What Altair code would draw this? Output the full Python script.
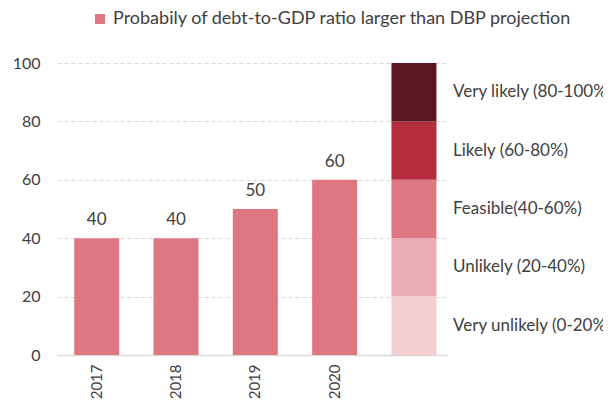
import altair as alt
import pandas as pd

years = ["2017", "2018", "2019", "2020"]
values = [40, 40, 50, 60]
series_name = "Probabily of debt-to-GDP ratio larger than DBP projection"

scale_cat = "scale"
levels = ["Very unlikely (0-20%)", "Unlikely (20-40%)", "Feasible(40-60%)",
          "Likely (60-80%)", "Very likely (80-100%)"]
level_sizes = [20, 20, 20, 20, 20]
level_colors = ["#F4D0D5", "#EBADB4", "#DF7782", "#B52D3D", "#5B1820"]
bar_color = "#DF7782"

categories = years + [scale_cat]

W, H = 390, 292
FONT = "Lato"
TXT = "#404040"

bars_df = pd.DataFrame({"cat": years, "value": values, "series": series_name})
lev_df = pd.DataFrame({"cat": scale_cat, "level": levels, "size": level_sizes,
                       "order": list(range(len(levels)))})
lev_df["y1"] = lev_df["size"].cumsum() - lev_df["size"]
lev_df["y2"] = lev_df["size"].cumsum()
lev_df["mid"] = (lev_df["y1"] + lev_df["y2"]) / 2

x_scale = alt.Scale(domain=categories, paddingInner=0.4325, paddingOuter=0.175, align=0.62)
x_enc = alt.X("cat:N", scale=x_scale,
              axis=alt.Axis(title=None, labelAngle=-90, labelExpr="datum.value == 'scale' ? '' : datum.value",
                            ticks=False, domainColor="#d9d9d9", domainWidth=1.5, labelFont=FONT,
                            labelFontSize=15, labelColor=TXT, labelPadding=9, grid=False))
y_scale = alt.Scale(domain=[0, 100])
y_axis = alt.Axis(title=None, values=[0, 20, 40, 60, 80, 100], ticks=False, domain=False,
                  grid=True, gridColor="#d9d9d9", gridDash=[4, 3], labelFont=FONT,
                  labelFontSize=16, labelColor=TXT, labelPadding=17)

bars = alt.Chart(bars_df).mark_bar().encode(
    x=x_enc,
    y=alt.Y("value:Q", scale=y_scale, axis=y_axis),
    color=alt.Color("series:N", scale=alt.Scale(domain=[series_name], range=[bar_color]),
                    legend=alt.Legend(orient="none", legendX=34, legendY=-53, title=None,
                                      symbolType="square", symbolSize=100, symbolStrokeWidth=0,
                                      labelFont=FONT, labelFontSize=18, labelColor=TXT,
                                      labelOffset=4, labelLimit=600)),
)

labels = alt.Chart(bars_df).mark_text(baseline="bottom", dy=-9, font=FONT, fontSize=17, color=TXT).encode(
    x=alt.X("cat:N", scale=x_scale),
    y=alt.Y("value:Q", scale=y_scale),
    text=alt.Text("value:Q"),
)

stack = alt.Chart(lev_df).mark_bar().encode(
    x=alt.X("cat:N", scale=x_scale),
    y=alt.Y("y1:Q", scale=y_scale),
    y2="y2:Q",
    color=alt.Color("level:N", scale=alt.Scale(domain=levels, range=level_colors), legend=None),
)

lev_text = alt.Chart(lev_df).mark_text(align="left", baseline="middle", font=FONT, fontSize=17,
                                       color=TXT).encode(
    x=alt.value(W + 6),
    y=alt.Y("mid:Q", scale=y_scale),
    text="level:N",
)

chart = alt.layer(bars, labels, stack, lev_text).resolve_scale(color="independent").properties(
    width=W, height=H,
    autosize=alt.AutoSizeParams(type="none"),
    padding={"left": 49, "top": 55, "right": 156, "bottom": 44},
).configure_view(stroke=None)

chart.save("out.html", embed_options={"renderer": "svg", "actions": False})
